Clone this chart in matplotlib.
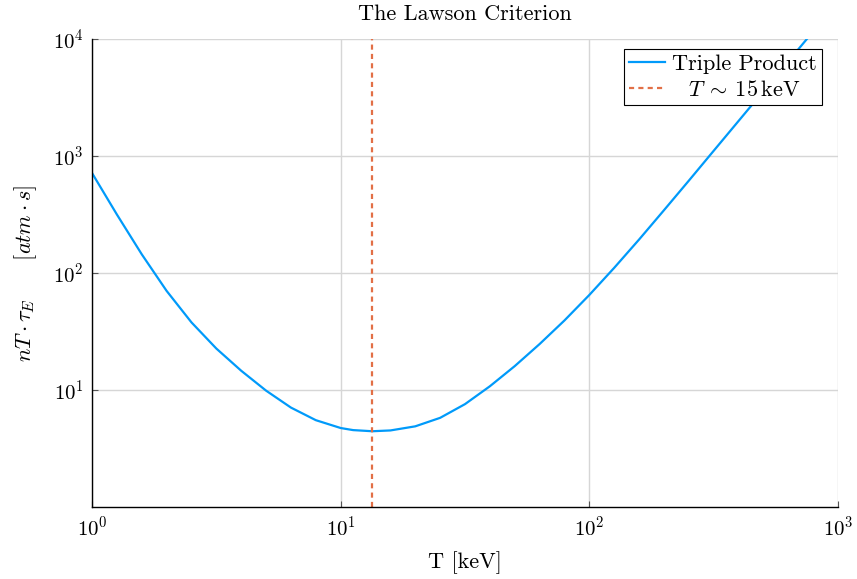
import matplotlib
matplotlib.use("Agg")
from matplotlib import pyplot as plt

# values (T in keV, triple product in atm*s)
T_keV = [1.000, 1.259, 1.585, 1.995, 2.512, 3.162, 3.981, 5.012, 6.310,
         7.943, 10.00, 11.22, 13.40, 15.85, 19.95, 25.12, 31.62, 39.81,
         50.12, 63.10, 79.43, 100.0, 125.9, 158.5, 199.5, 251.2, 316.2,
         398.1, 501.2, 631.0, 794.3]
triple = [715, 316, 144.4, 70.3, 37.8, 22.6, 14.6, 9.87, 7.07,
          5.52, 4.73, 4.54, 4.44, 4.51, 4.89, 5.78, 7.57, 10.76,
          16.0, 24.7, 39.3, 64.9, 110.7, 193.2, 343.6, 615, 1107,
          1991, 3581, 6442, 11590]
T_min = 13.4
x_ticks = [1, 10, 100, 1000]
y_ticks = [10, 100, 1000, 10000]

plt.rcParams['mathtext.fontset'] = 'cm'
plt.rcParams['font.family'] = 'serif'
plt.rcParams['font.serif'] = ['cmr10']
plt.rcParams['axes.formatter.use_mathtext'] = True

fig = plt.figure(figsize=(8.57, 5.79), dpi=100)
ax = fig.add_axes([0.1074, 0.1244, 0.8704, 0.8082])

ax.plot(T_keV, triple, color='#009AFA', lw=1.6, label='Triple Product')
ax.axvline(T_min, color='#E26F46', lw=1.6, ls=(0, (2.3, 1.9)),
           label=r'$\;\;\;T\:\sim\:15\,\mathrm{keV}$')

ax.set_xscale('log')
ax.set_yscale('log')
ax.set_xlim(1, 1000)
ax.set_ylim(1, 10000)
ax.set_xticks(x_ticks)
ax.set_yticks(y_ticks)
ax.minorticks_off()
ax.tick_params(direction='in', length=4, color='#555555', labelsize=15, pad=6)
ax.grid(True, color='#d6d6d6', lw=1)
ax.set_axisbelow(True)
for s in ['top', 'right']:
    ax.spines[s].set_visible(False)
for s in ['left', 'bottom']:
    ax.spines[s].set_linewidth(1.0)

ax.set_title('The Lawson Criterion', fontsize=16, pad=14)
ax.set_xlabel('T [keV]', fontsize=16, labelpad=8)
ax.set_ylabel(r'$nT \cdot \tau_E \qquad [atm \cdot s]$', fontsize=16, labelpad=10)

leg = ax.legend(loc='upper right', bbox_to_anchor=(0.9786, 0.9786),
                fontsize=16, fancybox=False, edgecolor='black', framealpha=1,
                borderpad=0.25, handlelength=1.6, handletextpad=0.3,
                labelspacing=0.25, borderaxespad=0)
leg.get_frame().set_linewidth(0.8)

fig.savefig('out.png', dpi=100)
